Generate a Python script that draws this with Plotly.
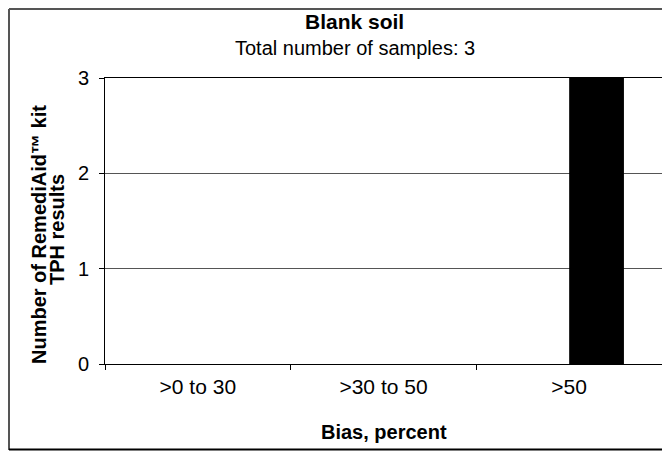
import plotly.graph_objects as go

categories = [">0 to 30", ">30 to 50", ">50"]
series_a = [0, 0, 0]
series_b = [0, 0, 3]
y_ticks = [0, 1, 2, 3]

FONT = "Liberation Sans, Arial, sans-serif"

# page has an 8px body margin; figure sized to fit the window
OFF = 8
W, H = 670 - OFF, 451 - OFF
L, R, T, B = 105 - OFF, 8, 78 - OFF, 87
pw, ph = W - L - R, H - T - B


def px(x):  # reference page x -> paper
    return (x - OFF - L) / pw


def py(y):  # reference page y -> paper
    return (H - B - (y - OFF)) / ph


fig = go.Figure()
fig.add_trace(go.Bar(x=categories, y=series_a, marker=dict(color="black", line=dict(width=0)), showlegend=False))
fig.add_trace(go.Bar(x=categories, y=series_b, marker=dict(color="black", line=dict(width=0)), showlegend=False))

border = dict(color="#555", width=2)
fig.update_layout(
    width=W, height=H,
    margin=dict(l=L, r=R, t=T, b=B),
    paper_bgcolor="white", plot_bgcolor="white",
    barmode="group", bargap=0.41, bargroupgap=0,
    font=dict(family=FONT, size=20, color="black"),
    xaxis=dict(
        showline=True, linecolor="black", linewidth=1, mirror=True,
        ticks="outside", ticklen=5, tickcolor="black", tickson="boundaries",
        showgrid=False, tickfont=dict(size=21), ticklabelstandoff=4,
    ),
    yaxis=dict(
        range=[0, 3], tickvals=y_ticks, showline=True, linecolor="black", linewidth=1, mirror=True,
        ticks="outside", ticklen=5, tickcolor="black",
        showgrid=True, gridcolor="#555", gridwidth=1, zeroline=False,
        tickfont=dict(size=20), ticklabelstandoff=6,
    ),
    shapes=[
        dict(type="line", xref="paper", yref="paper", x0=px(9), x1=px(9), y0=py(450), y1=py(9), line=border),
        dict(type="line", xref="paper", yref="paper", x0=px(9), x1=px(675), y0=py(9), y1=py(9), line=border),
        dict(type="line", xref="paper", yref="paper", x0=px(9), x1=px(675), y0=py(449.5), y1=py(449.5),
             line=dict(color="black", width=2)),
    ],
    annotations=[
        dict(text="<b>Blank soil</b>", x=px(354), y=py(22), xref="paper", yref="paper",
             showarrow=False, font=dict(size=21), xanchor="center", yanchor="middle"),
        dict(text="Total number of samples: 3", x=px(355), y=py(48), xref="paper", yref="paper",
             showarrow=False, font=dict(size=20), xanchor="center", yanchor="middle"),
        dict(text="<b>Bias, percent</b>", x=px(384), y=py(432), xref="paper", yref="paper",
             showarrow=False, font=dict(size=20), xanchor="center", yanchor="middle"),
        dict(text="<b>Number of RemediAid™ kit</b>", x=px(39), y=py(235), xref="paper", yref="paper",
             showarrow=False, font=dict(size=20), textangle=-90, xanchor="center", yanchor="middle"),
        dict(text="<b>TPH results</b>", x=px(57), y=py(230), xref="paper", yref="paper",
             showarrow=False, font=dict(size=20), textangle=-90, xanchor="center", yanchor="middle"),
    ],
)

fig.write_html("out.html")
